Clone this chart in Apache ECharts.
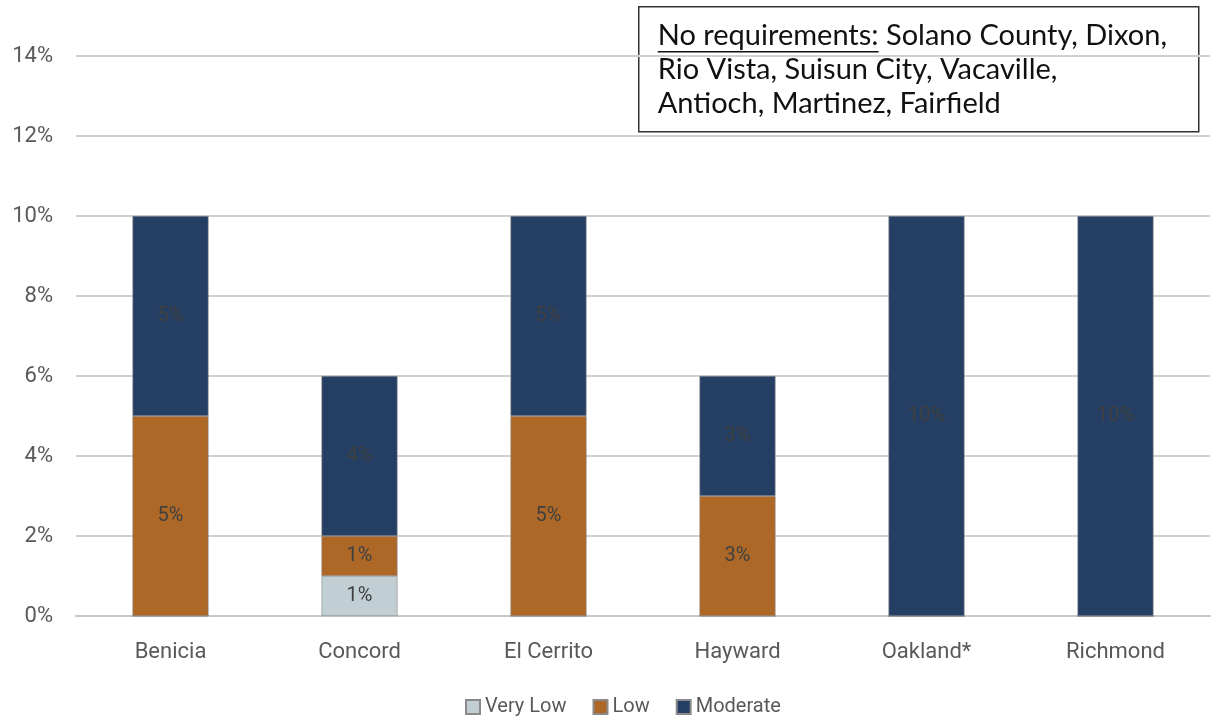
<!DOCTYPE html>
<html>
<head>
<meta charset="utf-8">
<script src="https://cdn.jsdelivr.net/npm/echarts@6/dist/echarts.min.js"></script>
<style>
  html, body { margin: 0; padding: 0; background: #fff; }
  #chart { width: 1214px; height: 717px; }
</style>
</head>
<body>
<div id="chart"></div>
<script>
const cities = ["Benicia", "Concord", "El Cerrito", "Hayward", "Oakland*", "Richmond"];
const veryLow = [0, 1, 0, 0, 0, 0];
const low = [5, 1, 5, 3, 0, 0];
const moderate = [5, 4, 5, 3, 10, 10];
const yTicks = [0, 2, 4, 6, 8, 10, 12, 14];
const noteHead = "No requirements:";
const noteBody = " Solano County, Dixon,\nRio Vista, Suisun City, Vacaville,\nAntioch, Martinez, Fairfield";

const chart = echarts.init(document.getElementById("chart"));

// measure underline width for the note heading
const noteFont = "29px Lato";
const ctx = document.createElement("canvas").getContext("2d");
ctx.font = noteFont;
const headWidth = ctx.measureText(noteHead).width;

const labelStyle = {
  show: true,
  position: "inside",
  color: "#404040",
  fontFamily: "Roboto",
  fontSize: 20,
  formatter: (p) => (p.value > 0 ? p.value + "%" : ""),
};

const makeSeries = (name, data, color) => ({
  name,
  type: "bar",
  stack: "total",
  data,
  barWidth: 76,
  itemStyle: { color, borderColor: "#8a8a8a", borderWidth: 0.6 },
  label: labelStyle,
});

const option = {
  animation: false,
  backgroundColor: "#fff",
  grid: { left: 76, right: 4, top: 56, bottom: 101 },
  xAxis: {
    type: "category",
    data: cities,
    axisTick: { show: false },
    axisLine: { lineStyle: { color: "#c8c8c8", width: 2 } },
    axisLabel: { color: "#595959", fontFamily: "Roboto", fontSize: 22, margin: 25 },
  },
  yAxis: {
    type: "value",
    min: yTicks[0],
    max: yTicks[yTicks.length - 1],
    interval: 2,
    axisLine: { show: false },
    axisTick: { show: false },
    splitLine: { lineStyle: { color: "#d0d0d0", width: 2 } },
    axisLabel: { color: "#595959", fontFamily: "Roboto", fontSize: 22, margin: 23, formatter: "{value}%" },
  },
  legend: {
    top: 692,
    left: 460,
    itemWidth: 14,
    itemHeight: 14,
    itemGap: 26,
    icon: "rect",
    textStyle: { color: "#595959", fontFamily: "Roboto", fontSize: 20 },
    data: ["Very Low", "Low", "Moderate"],
  },
  series: [
    makeSeries("Very Low", veryLow, "#c1cfd5"),
    makeSeries("Low", low, "#ad6828"),
    makeSeries("Moderate", moderate, "#243f63"),
  ],
  graphic: [
    {
      type: "group",
      left: 638,
      top: 6,
      z: 100,
      children: [
        {
          type: "rect",
          shape: { x: 0, y: 0, width: 560, height: 125 },
          style: { fill: "#fff", stroke: "#333", lineWidth: 1.5 },
        },
        {
          type: "text",
          x: 19,
          y: 12,
          style: {
            text: noteHead + noteBody,
            fill: "#111",
            font: noteFont,
            lineHeight: 34,
          },
        },
        {
          type: "line",
          shape: { x1: 19, y1: 45, x2: 19 + headWidth, y2: 45 },
          style: { stroke: "#111", lineWidth: 1.3 },
        },
      ],
    },
  ],
};

chart.setOption(option);
window.addEventListener("resize", chart.resize);
</script>
</body>
</html>
